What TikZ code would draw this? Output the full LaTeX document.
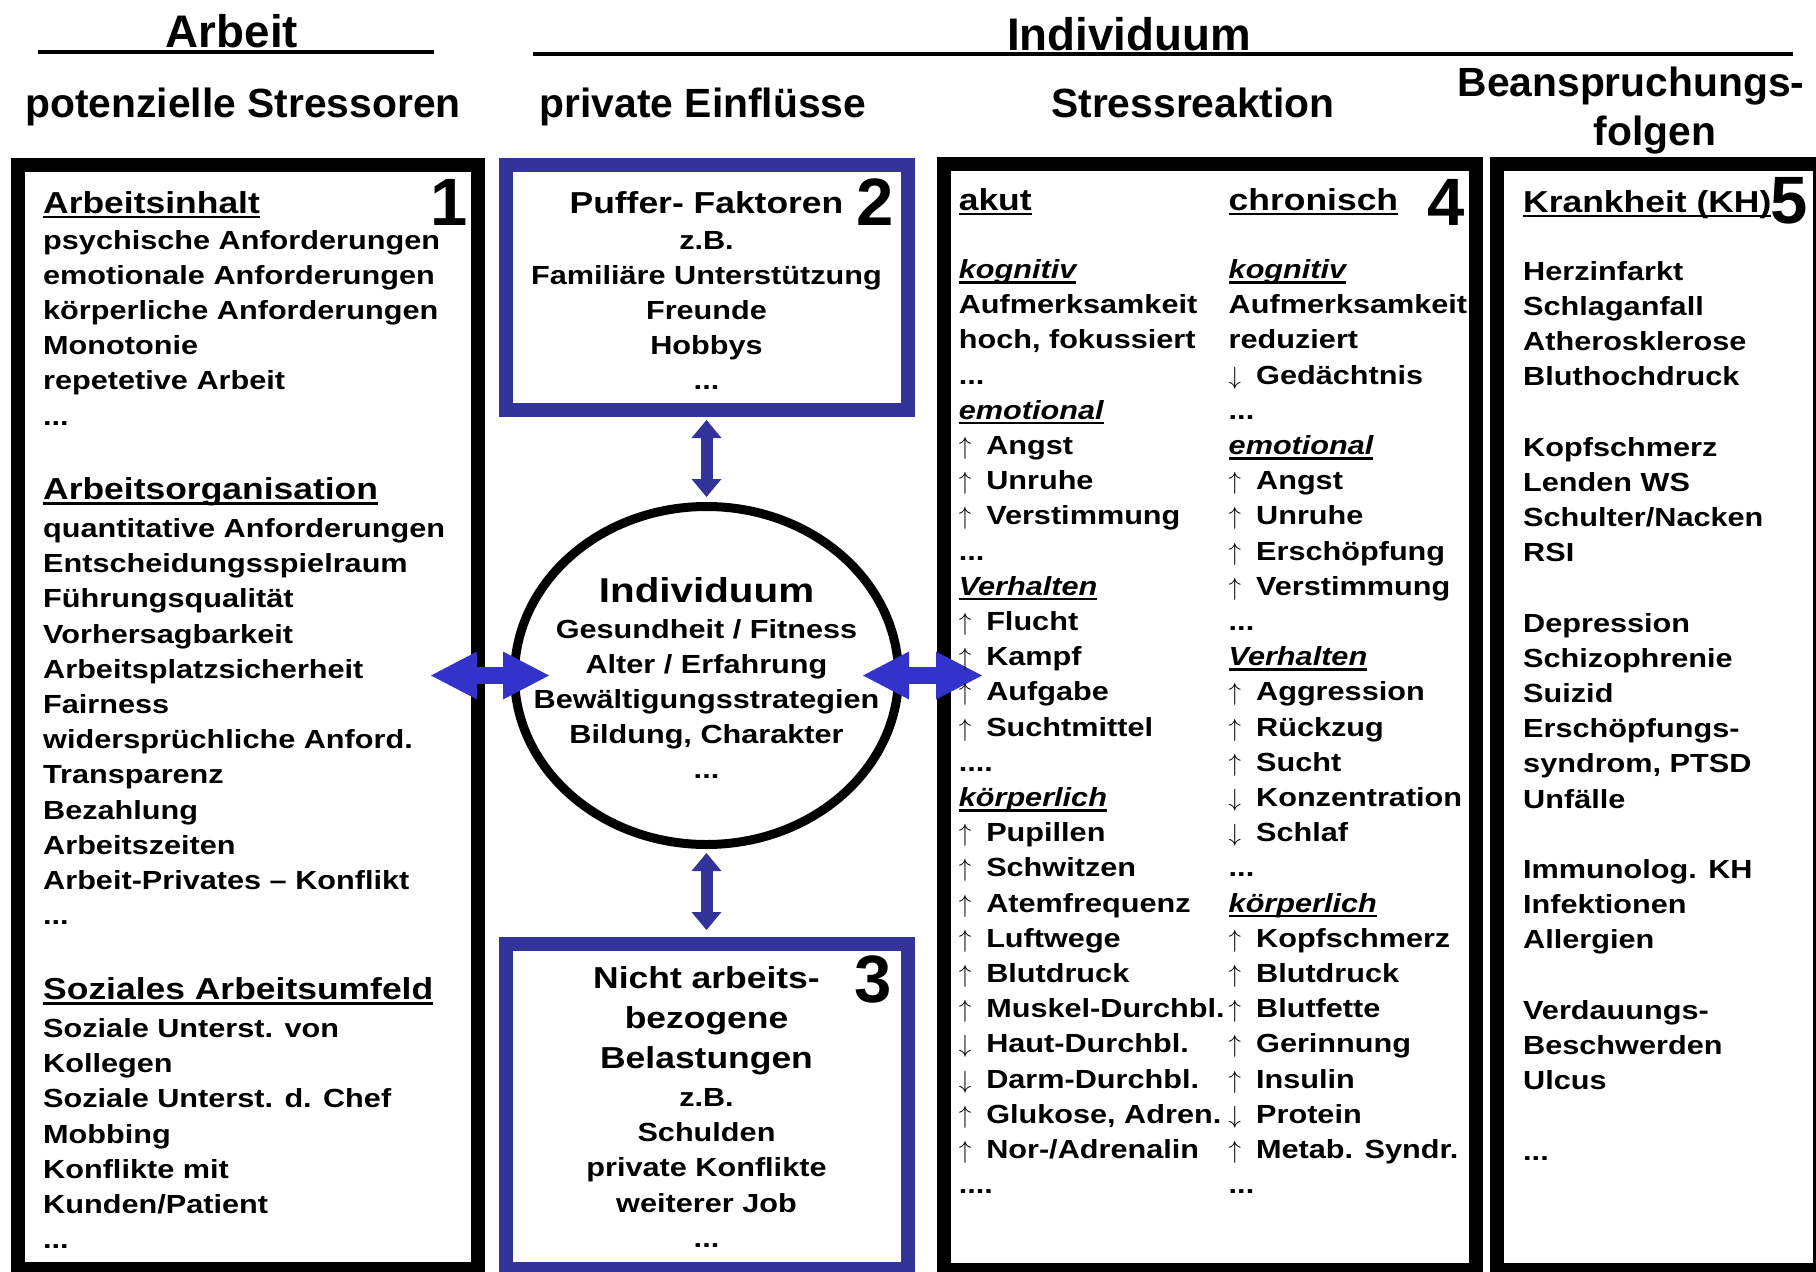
\documentclass[tikz,border=0pt]{standalone}
\usepackage{fontspec}
\setmainfont{Liberation Sans}
\newfontfamily\widefont{Liberation Sans}[FakeStretch=1.17]
\usetikzlibrary{shapes.geometric}
\usetikzlibrary{arrows.meta}
\definecolor{boxblue}{RGB}{51,51,153}
\definecolor{arrowblue}{RGB}{51,51,204}
\newcommand{\bodyfont}{\widefont\bfseries\fontsize{26.2}{30}\selectfont}
\newcommand{\headfont}{\widefont\bfseries\fontsize{30.3}{34}\selectfont}
\newcommand{\colfont}{\bfseries\fontsize{40.8}{46}\selectfont}
\newcommand{\topfont}{\bfseries\fontsize{45.7}{50}\selectfont}
\newcommand{\numfont}{\bfseries\fontsize{67}{70}\selectfont}
\newcommand{\undl}[1]{\setbox0=\hbox{#1}\rlap{\rule[-5pt]{\wd0}{2.3pt}}\box0}
\newcommand{\kat}[1]{\undl{\itshape #1}}
\newcommand{\au}{$\uparrow$\hspace{15pt}}
\newcommand{\ad}{$\downarrow$\hspace{15pt}}
\newcommand{\ddd}{...}
\newcommand{\dddd}{....}
\tikzstyle{blackbox}=[draw=black, line width=14pt, inner sep=0pt]
\tikzstyle{bluebox}=[draw=boxblue, line width=14pt, inner sep=0pt]
\tikzstyle{body}=[inner sep=0pt, anchor=base west, font=\bodyfont]
\tikzstyle{bodyc}=[inner sep=0pt, anchor=base, font=\bodyfont]
\tikzstyle{head}=[inner sep=0pt, anchor=base west, font=\headfont]
\tikzstyle{headc}=[inner sep=0pt, anchor=base, font=\headfont]
\tikzstyle{colhead}=[inner sep=0pt, anchor=base, font=\colfont]
\tikzstyle{num}=[inner sep=0pt, anchor=base west, font=\numfont]
\tikzstyle{varrow}=[draw=boxblue, line width=12pt, >={Triangle[length=18pt,width=30pt,line width=0pt]}, <->]
\tikzstyle{harrow}=[draw=arrowblue, line width=17pt, >={Triangle[length=46pt,width=48pt,line width=0pt]}, <->]

\begin{document}
\begin{tikzpicture}[x=1pt,y=-1pt]
        \useasboundingbox (0,0) rectangle (1816,1272);
        % titles
        \node[font=\topfont, inner sep=0pt, anchor=base] (arbeit) at (232,47) {Arbeit};
        \draw[line width=4pt] (38,52) -- (434,52);
        \node[font=\topfont, inner sep=0pt, anchor=base] (indivtop) at (1129,50) {Individuum};
        \draw[line width=4pt] (533,54) -- (1793,54);
        \node[colhead] (stressoren) at (243,117) {potenzielle Stressoren};
        \node[colhead] (privat) at (703,117) {private Einflüsse};
        \node[colhead] (reaktion) at (1193,117) {Stressreaktion};
        \node[colhead] (folgen1) at (1631,96) {Beanspruchungs-};
        \node[colhead] (folgen2) at (1655,145) {folgen};

        % frames
        \node[blackbox, minimum width=460pt, minimum height=1104pt] (box1) at (248,717) {};
        \node[bluebox, minimum width=402pt, minimum height=245pt] (box2) at (706.5,287.5) {};
        \node[bluebox, minimum width=402pt, minimum height=325pt] (box3) at (706.5,1106.5) {};
        \node[blackbox, minimum width=532pt, minimum height=1106pt] (box4) at (1210,717) {};
        \node[blackbox, minimum width=323pt, minimum height=1106pt] (box5) at (1658.5,717) {};
        \node[draw, ellipse, line width=9pt, inner sep=0pt, minimum width=384pt, minimum height=338pt] (indiv) at (706.5,675.5) {};

        % numbers
        \node[num] (n1) at (430,225) {1};
        \node[num] (n2) at (856,225) {2};
        \node[num] (n3) at (854,1002) {3};
        \node[num] (n4) at (1427,225) {4};
        \node[num] (n5) at (1770,223) {5};

        % arrows
        \draw[varrow, shorten <=3pt, shorten >=5pt] (box2.south) -- (indiv.north);
        \draw[varrow, shorten <=4pt, shorten >=7pt] (indiv.south) -- (box3.north);
        \draw[harrow, yshift=2pt, shorten <=-54pt, shorten >=-39pt] (box1.east |- indiv.west) -- (indiv.west);
        \draw[harrow, yshift=2pt, shorten <=-40pt, shorten >=-45pt] (indiv.east) -- (box4.west |- indiv.east);

        % box 1
        \node[head] (inhalt) at (43,213) {\undl{Arbeitsinhalt}};
        \foreach \t [count=\i from 0] in {psychische Anforderungen, emotionale Anforderungen, körperliche Anforderungen, Monotonie, repetetive Arbeit, \ddd}
            \node[body] (inh\i) at (43,249+35.2*\i) {\t};
        \node[head] (orga) at (43,499.5) {\undl{Arbeitsorganisation}};
        \foreach \t [count=\i from 0] in {quantitative Anforderungen, Entscheidungsspielraum, Führungsqualität, Vorhersagbarkeit, Arbeitsplatzsicherheit, Fairness, widersprüchliche Anford., Transparenz, Bezahlung, Arbeitszeiten, Arbeit-Privates – Konflikt, \ddd}
            \node[body] (org\i) at (43,537.5+35.2*\i) {\t};
        \node[head] (sozial) at (43,999.5) {\undl{Soziales Arbeitsumfeld}};
        \foreach \t [count=\i from 0] in {Soziale Unterst. von, Kollegen, Soziale Unterst. d. Chef, Mobbing, Konflikte mit, Kunden/Patient, \ddd}
            \node[body] (soz\i) at (43,1037.5+35.2*\i) {\t};

        % box 2
        \node[headc] (puffer) at (706.5,213) {Puffer- Faktoren};
        \foreach \t [count=\i from 0] in {z.B., Familiäre Unterstützung, Freunde, Hobbys, \ddd}
            \node[bodyc] (puf\i) at (706.5,249+35.2*\i) {\t};

        % individuum
        \node[inner sep=0pt, anchor=base, font=\widefont\bfseries\fontsize{34.5}{38}\selectfont] (ind) at (706.5,602) {Individuum};
        \foreach \t [count=\i from 0] in {Gesundheit / Fitness, Alter / Erfahrung, Bewältigungsstrategien, {Bildung, Charakter}, \ddd}
            \node[bodyc] (ind\i) at (706.5,638+35.2*\i) {\t};

        % box 3
        \foreach \t [count=\i from 0] in {Nicht arbeits-, bezogene, Belastungen}
            \node[headc] (bel\i) at (706.5,988+40*\i) {\t};
        \foreach \t [count=\i from 0] in {z.B., Schulden, private Konflikte, weiterer Job, \ddd}
            \node[bodyc] (priv\i) at (706.5,1106.5+35.2*\i) {\t};

        % box 4
        \node[head] (akut) at (958.6,210) {\undl{akut}};
        \node[head] (chron) at (1228.5,210) {\undl{chronisch}};
        \foreach \t [count=\i from 0] in {\kat{kognitiv}, Aufmerksamkeit, {hoch, fokussiert}, \ddd, \kat{emotional}, \au Angst, \au Unruhe, \au Verstimmung, \ddd, \kat{Verhalten}, \au Flucht, \au Kampf, \au Aufgabe, \au Suchtmittel, \dddd, \kat{körperlich}, \au Pupillen, \au Schwitzen, \au Atemfrequenz, \au Luftwege, \au Blutdruck, \au Muskel-Durchbl., \ad Haut-Durchbl., \ad Darm-Durchbl., \au {Glukose, Adren.}, \au Nor-/Adrenalin, \dddd}
            \node[body] (ak\i) at (958.6,278.5+35.2*\i) {\t};
        \foreach \t [count=\i from 0] in {\kat{kognitiv}, Aufmerksamkeit, reduziert, \ad Gedächtnis, \ddd, \kat{emotional}, \au Angst, \au Unruhe, \au Erschöpfung, \au Verstimmung, \ddd, \kat{Verhalten}, \au Aggression, \au Rückzug, \au Sucht, \ad Konzentration, \ad Schlaf, \ddd, \kat{körperlich}, \au Kopfschmerz, \au Blutdruck, \au Blutfette, \au Gerinnung, \au Insulin, \ad Protein, \au Metab. Syndr., \ddd}
            \node[body] (ch\i) at (1228.5,278.5+35.2*\i) {\t};

        % box 5
        \node[head] (krank) at (1523,212) {\undl{Krankheit (KH)}};
        \foreach \n/\t in {0/Herzinfarkt, 1/Schlaganfall, 2/Atherosklerose, 3/Bluthochdruck, 5/Kopfschmerz, 6/Lenden WS, 7/{Schulter/Nacken}, 8/RSI, 10/Depression, 11/Schizophrenie, 12/Suizid, 13/Erschöpfungs-, 14/{syndrom, PTSD}, 15/Unfälle, 17/Immunolog. KH, 18/Infektionen, 19/Allergien, 21/Verdauungs-, 22/Beschwerden, 23/Ulcus, 25/\ddd}
            \node[body] (kh\n) at (1523,280+35.2*\n) {\t};
    \end{tikzpicture}
\end{document}
